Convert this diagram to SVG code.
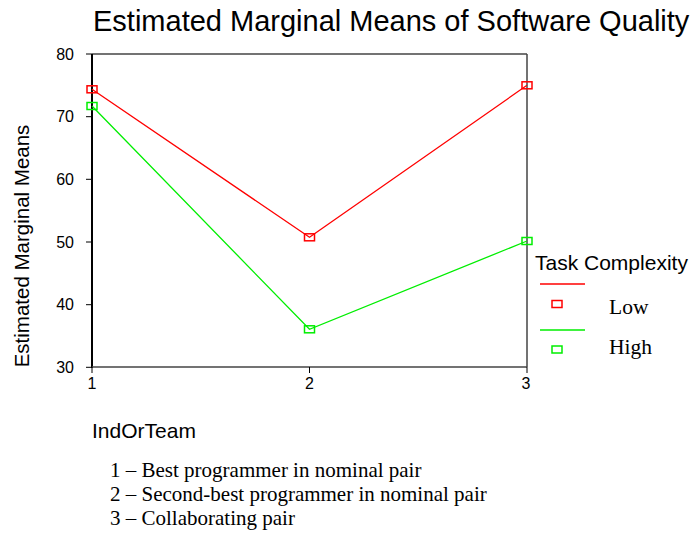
<svg xmlns="http://www.w3.org/2000/svg" width="691" height="533" viewBox="0 0 691 533">
  <style>
    .sans { font-family: "Liberation Sans", Arial, sans-serif; fill: #000; }
    .serif { font-family: "Liberation Serif", "Times New Roman", serif; fill: #000; }
    .tick { font-size: 16px; }
    .axis { stroke: #000; stroke-width: 2; fill: none; }
    .frame { stroke: #444; stroke-width: 1.5; fill: none; }
    .low { stroke: #ff0000; stroke-width: 1.3; fill: none; }
    .high { stroke: #00ee00; stroke-width: 1.3; fill: none; }
    .mk-low { stroke: #ff0000; stroke-width: 1.5; fill: none; }
    .mk-high { stroke: #00ee00; stroke-width: 1.5; fill: none; }
  </style>
  <rect width="691" height="533" fill="#fff"/>

  <text class="sans" x="93" y="31" font-size="29">Estimated Marginal Means of Software Quality</text>

  <!-- plot frame -->
  <g id="plot-frame">
    <line class="frame" x1="92" y1="54" x2="527" y2="54"/>
    <line class="frame" x1="527" y1="54" x2="527" y2="367"/>
    <line class="axis" x1="92" y1="54" x2="92" y2="368"/>
    <line class="frame" x1="92" y1="367" x2="527" y2="367"/>
  </g>

  <!-- y axis ticks and labels -->
  <g id="y-axis">
    <g stroke="#000" stroke-width="1">
      <line x1="86" y1="54" x2="92" y2="54"/>
      <line x1="86" y1="116.7" x2="92" y2="116.7"/>
      <line x1="86" y1="179.3" x2="92" y2="179.3"/>
      <line x1="86" y1="242" x2="92" y2="242"/>
      <line x1="86" y1="304.7" x2="92" y2="304.7"/>
      <line x1="86" y1="367.3" x2="92" y2="367.3"/>
    </g>
    <g class="sans tick" text-anchor="end">
      <text x="74" y="60">80</text>
      <text x="74" y="122">70</text>
      <text x="74" y="185">60</text>
      <text x="74" y="248">50</text>
      <text x="74" y="310">40</text>
      <text x="74" y="373">30</text>
    </g>
    <text class="sans" font-size="20.5" text-anchor="middle" transform="translate(29 246) rotate(-90)">Estimated Marginal Means</text>
  </g>

  <!-- x axis ticks and labels -->
  <g id="x-axis">
    <g stroke="#000" stroke-width="1">
      <line x1="92" y1="367" x2="92" y2="373"/>
      <line x1="309.5" y1="367" x2="309.5" y2="373"/>
      <line x1="527" y1="367" x2="527" y2="373"/>
    </g>
    <g class="sans tick" text-anchor="middle">
      <text x="92" y="389">1</text>
      <text x="309.5" y="389">2</text>
      <text x="526" y="389">3</text>
    </g>
    <text class="sans" x="92" y="438" font-size="21">IndOrTeam</text>
  </g>

  <!-- data series -->
  <g id="connectors">
    <polyline id="series-low" class="low" points="92,89.3 309.5,237.3 527,85.3"/>
    <polyline id="series-high" class="high" points="92,106 309.5,329.3 527,241"/>
  </g>

  <g id="markers-low">
    <rect class="mk-low" x="87" y="85.8" width="10" height="7"/>
    <rect class="mk-low" x="304.5" y="233.8" width="10" height="7"/>
    <rect class="mk-low" x="522" y="81.8" width="10" height="7"/>
  </g>
  <g id="markers-high">
    <rect class="mk-high" x="87" y="102.5" width="10" height="7"/>
    <rect class="mk-high" x="304.5" y="325.8" width="10" height="7"/>
    <rect class="mk-high" x="522" y="237.5" width="10" height="7"/>
  </g>

  <!-- legend -->
  <g id="legend">
    <text class="sans" x="535" y="270" font-size="21">Task Complexity</text>
    <line class="low" x1="540" y1="284" x2="585" y2="284"/>
    <rect class="mk-low" x="552" y="300.5" width="10" height="7"/>
    <text class="serif" x="609" y="314" font-size="21.5">Low</text>
    <line class="high" x1="540" y1="330" x2="585" y2="330"/>
    <rect class="mk-high" x="552" y="346" width="10" height="7"/>
    <text class="serif" x="609" y="354" font-size="21.5">High</text>
  </g>

  <!-- category key -->
  <g id="key" class="serif" font-size="21">
    <text x="110" y="477">1 – Best programmer in nominal pair</text>
    <text x="110" y="501">2 – Second-best programmer in nominal pair</text>
    <text x="110" y="525">3 – Collaborating pair</text>
  </g>
</svg>
